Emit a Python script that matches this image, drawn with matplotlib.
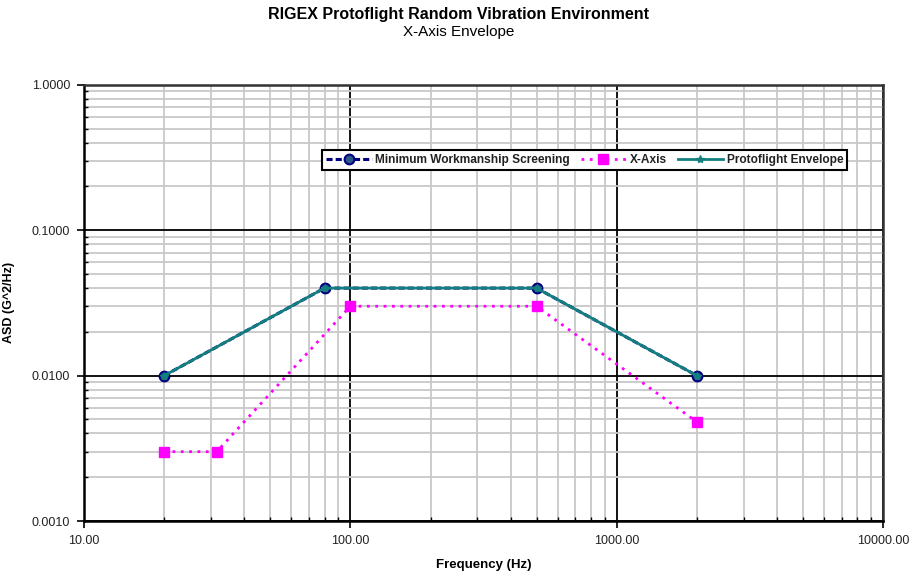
import matplotlib
matplotlib.use("Agg")
import matplotlib.pyplot as plt
from matplotlib.ticker import FixedLocator, FixedFormatter, LogLocator, NullFormatter

plt.rcParams['font.family'] = ['Liberation Sans', 'DejaVu Sans']

# Envelope breakpoints
screen_freq = [20, 80, 500, 2000]
screen_asd = [0.01, 0.04, 0.04, 0.01]

xaxis_freq = [20, 31.5, 100, 500, 2000]
xaxis_asd = [0.003, 0.003, 0.03, 0.03, 0.0048]

proto_freq = [20, 80, 500, 2000]
proto_asd = [0.01, 0.04, 0.04, 0.01]

x_ticks = [10, 100, 1000, 10000]
x_tick_labels = ["10.00", "100.00", "1000.00", "10000.00"]
y_ticks = [0.001, 0.01, 0.1, 1.0]
y_tick_labels = ["0.0010", "0.0100", "0.1000", "1.0000"]

fig = plt.figure(figsize=(9.17, 5.77), dpi=100)
ax = fig.add_axes([0.0916, 0.097, 0.8714, 0.756])
ax.set_xscale("log")
ax.set_yscale("log")
ax.set_xlim(10, 10000)
ax.set_ylim(0.001, 1.0)

# Grid: gray minor lines, black decade lines
ax.xaxis.set_minor_locator(LogLocator(base=10, subs=range(2, 10)))
ax.yaxis.set_minor_locator(LogLocator(base=10, subs=range(2, 10)))
ax.xaxis.set_minor_formatter(NullFormatter())
ax.yaxis.set_minor_formatter(NullFormatter())
ax.grid(True, which="minor", color="#c8c8c8", linewidth=1.3, zorder=0)
ax.grid(True, which="major", color="black", linewidth=1.3, zorder=0.5)
ax.set_axisbelow(True)

ax.xaxis.set_major_locator(FixedLocator(x_ticks))
ax.xaxis.set_major_formatter(FixedFormatter(x_tick_labels))
ax.yaxis.set_major_locator(FixedLocator(y_ticks))
ax.yaxis.set_major_formatter(FixedFormatter(y_tick_labels))
ax.tick_params(which="major", direction="out", length=5, width=1.2, labelsize=9,
               colors="black", labelcolor="#222222", pad=5)
ax.tick_params(which="minor", direction="in", length=3, width=1.0)

for sp in ax.spines.values():
    sp.set_linewidth(1.8)
    sp.set_color("black")
ax.spines["top"].set_color("#333333")
ax.spines["right"].set_color("#333333")

ax.plot(screen_freq, screen_asd, color="#000080", linestyle=(0, (2, 1)), linewidth=2.2,
        marker="o", markersize=7, markerfacecolor="#2a5a8a", markeredgecolor="#000080",
        markeredgewidth=1.5, label="Minimum Workmanship Screening", zorder=3)
ax.plot(xaxis_freq, xaxis_asd, color="#ff00ff", linestyle=(0, (1, 2)), linewidth=2.0,
        marker="s", markersize=6.5, markerfacecolor="#ff00ff", markeredgecolor="#ff00ff",
        label="X-Axis", zorder=3)
ax.plot(proto_freq, proto_asd, color="#138080", linestyle="-", linewidth=2.0,
        marker="*", markersize=6, markerfacecolor="#138080", markeredgecolor="#138080",
        label="Protoflight Envelope", zorder=4)

leg = ax.legend(loc="upper left", bbox_to_anchor=(0.298, 0.851), ncol=3, fontsize=8.6,
                frameon=True, fancybox=False, edgecolor="black", framealpha=1,
                handlelength=3.8, handletextpad=0.3, columnspacing=0.9,
                borderpad=0.35, borderaxespad=0)
leg.get_frame().set_linewidth(1.5)
for t in leg.get_texts():
    t.set_fontweight("bold")
    t.set_color("#222222")

ax.set_xlabel("Frequency (Hz)", fontsize=9.5, fontweight="bold", labelpad=9)
ax.set_ylabel("ASD (G^2/Hz)", fontsize=9, fontweight="bold", labelpad=12)

fig.text(0.5, 0.975, "RIGEX Protoflight Random Vibration Environment", ha="center",
         va="center", fontsize=11.5, fontweight="bold")
fig.text(0.5, 0.944, "X-Axis Envelope", ha="center", va="center", fontsize=11)

fig.savefig("out.png", dpi=100)
